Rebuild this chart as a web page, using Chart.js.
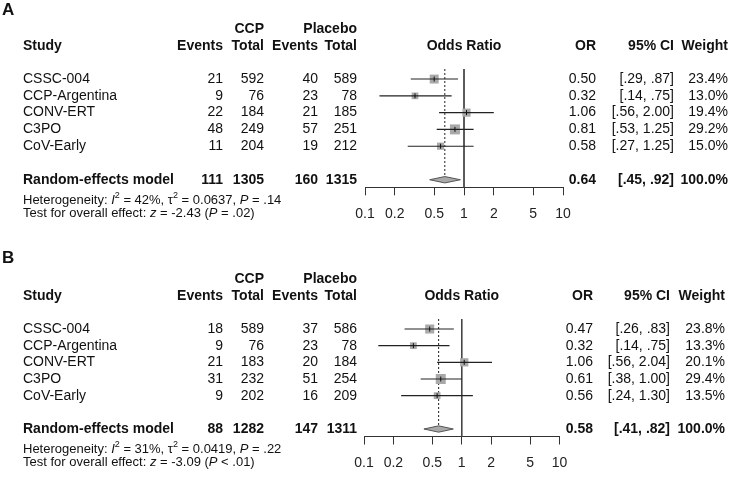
<!DOCTYPE html>
<html><head><meta charset="utf-8">
<script src="https://cdn.jsdelivr.net/npm/chart.js@4.4.1/dist/chart.umd.min.js"></script>
<style>
html,body{margin:0;padding:0;background:#fff;overflow:hidden;width:733px;height:479px}
canvas{position:absolute;left:0}
#ca{top:0}
#cb{top:240px}
</style></head><body>
<canvas id="ca" width="733" height="240"></canvas>
<canvas id="cb" width="733" height="239"></canvas>
<script>
// ---------- data ----------
const studies = ['CSSC-004', 'CCP-Argentina', 'CONV-ERT', 'C3PO', 'CoV-Early'];
const xTicks = [0.1, 0.2, 0.5, 1, 2, 5, 10];
const headerTop = ['CCP', 'Placebo'];
const headerCols = ['Study', 'Events', 'Total', 'Events', 'Total', 'Odds Ratio', 'OR', '95% CI', 'Weight'];
const summaryLabel = 'Random-effects model';

// Panel A
const aCcpEvents = [21, 9, 22, 48, 11];
const aCcpTotal  = [592, 76, 184, 249, 204];
const aPlcEvents = [40, 23, 21, 57, 19];
const aPlcTotal  = [589, 78, 185, 251, 212];
const aOR        = [0.50, 0.32, 1.06, 0.81, 0.58];
const aLo        = [0.29, 0.14, 0.56, 0.53, 0.27];
const aHi        = [0.87, 0.75, 2.00, 1.25, 1.25];
const aWeight    = [23.4, 13.0, 19.4, 29.2, 15.0];
const aSumCounts = [111, 1305, 160, 1315];
const aSumOR     = [0.64, 0.45, 0.92];
const aHet       = ['42%', '0.0637', '.14'];
const aTest      = ['-2.43', '=', '.02'];

// Panel B
const bCcpEvents = [18, 9, 21, 31, 9];
const bCcpTotal  = [589, 76, 183, 232, 202];
const bPlcEvents = [37, 23, 20, 51, 16];
const bPlcTotal  = [586, 78, 184, 254, 209];
const bOR        = [0.47, 0.32, 1.06, 0.61, 0.56];
const bLo        = [0.26, 0.14, 0.56, 0.38, 0.24];
const bHi        = [0.83, 0.75, 2.04, 1.00, 1.30];
const bWeight    = [23.8, 13.3, 20.1, 29.4, 13.5];
const bSumCounts = [88, 1282, 147, 1311];
const bSumOR     = [0.58, 0.41, 0.82];
const bHet       = ['31%', '0.0419', '.22'];
const bTest      = ['-3.09', '<', '.01'];

// ---------- layout (positions only) ----------
const Y_MIN = -0.6, Y_MAX = 6.45, SUM_ROW = 6;
const FONT = '"Liberation Sans", Arial, Helvetica, sans-serif';
const TXT = '#111';

function fmtCI(v) { return v < 1 ? v.toFixed(2).slice(1) : v.toFixed(2); }

function rich(ctx, x, y, segs, size) {
  let cx = x;
  for (const s of segs) {
    let f = size, dy = 0, st = '';
    if (s.s === 'i') st = 'italic ';
    if (s.s === 'sup') { f = Math.round(size * 0.72); dy = -size * 0.42; }
    ctx.font = st + f + 'px ' + FONT;
    ctx.fillText(s.t, cx, y + dy);
    cx += ctx.measureText(s.t).width;
  }
}

function makePanel(canvasId, d, L) {
  const n = studies.length;
  const datasets = [];
  // reference line at OR = 1
  datasets.push({ type: 'line', data: [{x: 1, y: Y_MIN}, {x: 1, y: Y_MAX}], borderColor: '#444', borderWidth: 1, pointRadius: 0, order: 20, clip: false });
  // dotted line at pooled OR
  datasets.push({ type: 'line', data: [{x: d.sum[0], y: Y_MIN}, {x: d.sum[0], y: SUM_ROW}], borderColor: '#222', borderWidth: 1, borderDash: [2, 2], pointRadius: 0, order: 19, clip: false });
  // squares
  datasets.push({ type: 'scatter', data: d.or.map((v, i) => ({x: v, y: i})), pointStyle: 'rect',
    pointRadius: d.w.map(w => 1.85 * Math.sqrt(w) / Math.SQRT2), backgroundColor: '#a9a9a9', borderWidth: 0, order: 10, clip: false });
  // CI lines
  for (let i = 0; i < n; i++) {
    datasets.push({ type: 'line', data: [{x: d.lo[i], y: i}, {x: d.hi[i], y: i}], borderColor: '#222', borderWidth: 1.1, pointRadius: 0, order: 5, clip: false });
  }
  // estimate ticks
  datasets.push({ type: 'scatter', data: d.or.map((v, i) => ({x: v, y: i})), pointStyle: 'line', rotation: 90, pointRadius: 2.5,
    borderColor: '#111', borderWidth: 1, order: 4, clip: false });
  // diamond
  const h = 0.19;
  datasets.push({ type: 'line', data: [
      {x: d.sum[1], y: SUM_ROW}, {x: d.sum[0], y: SUM_ROW - h}, {x: d.sum[2], y: SUM_ROW},
      {x: d.sum[0], y: SUM_ROW + h}, {x: d.sum[1], y: SUM_ROW}],
    borderColor: '#555', borderWidth: 1, backgroundColor: '#a9a9a9', fill: 'shape', pointRadius: 0, tension: 0, order: 1, clip: false });

  const textPlugin = {
    id: 'tbl',
    afterDraw(chart) {
      const ctx = chart.ctx, ys = chart.scales.y, ca = chart.chartArea;
      const py = v => ys.getPixelForValue(v);
      const C = L.cols;
      ctx.save();
      ctx.fillStyle = TXT;
      ctx.textBaseline = 'middle';
      // panel letter
      ctx.font = 'bold 17px ' + FONT; ctx.textAlign = 'left';
      ctx.fillText(d.letter, 2, L.letterY);
      // headers
      ctx.font = 'bold 14px ' + FONT;
      ctx.textAlign = 'right';
      ctx.fillText(headerTop[0], C.total, py(-2.98));
      ctx.fillText(headerTop[1], C.pTotal, py(-2.98));
      const hy = py(-1.96);
      ctx.textAlign = 'left'; ctx.fillText(headerCols[0], C.study, hy);
      ctx.textAlign = 'right';
      ctx.fillText(headerCols[1], C.events, hy);
      ctx.fillText(headerCols[2], C.total, hy);
      ctx.fillText(headerCols[3], C.pEvents, hy);
      ctx.fillText(headerCols[4], C.pTotal, hy);
      ctx.textAlign = 'center'; ctx.fillText(headerCols[5], (ca.left + ca.right) / 2, hy);
      ctx.textAlign = 'right';
      ctx.fillText(headerCols[6], C.or, hy);
      ctx.fillText(headerCols[7], C.ci, hy);
      ctx.fillText(headerCols[8], C.w, hy);
      // study rows
      ctx.font = '14px ' + FONT;
      for (let i = 0; i < n; i++) {
        const y = py(i);
        ctx.textAlign = 'left'; ctx.fillText(studies[i], C.study, y);
        ctx.textAlign = 'right';
        ctx.fillText(String(d.ce[i]), C.events, y);
        ctx.fillText(String(d.ct[i]), C.total, y);
        ctx.fillText(String(d.pe[i]), C.pEvents, y);
        ctx.fillText(String(d.pt[i]), C.pTotal, y);
        ctx.fillText(d.or[i].toFixed(2), C.or, y);
        ctx.fillText('[' + fmtCI(d.lo[i]) + ', ' + fmtCI(d.hi[i]) + ']', C.ci, y);
        ctx.fillText(d.w[i].toFixed(1) + '%', C.w, y);
      }
      // summary row
      const sy = py(SUM_ROW);
      ctx.font = 'bold 14px ' + FONT;
      ctx.textAlign = 'left'; ctx.fillText(summaryLabel, C.study, sy);
      ctx.textAlign = 'right';
      ctx.fillText(String(d.sc[0]), C.events, sy);
      ctx.fillText(String(d.sc[1]), C.total, sy);
      ctx.fillText(String(d.sc[2]), C.pEvents, sy);
      ctx.fillText(String(d.sc[3]), C.pTotal, sy);
      ctx.fillText(d.sum[0].toFixed(2), C.or, sy);
      ctx.fillText('[' + fmtCI(d.sum[1]) + ', ' + fmtCI(d.sum[2]) + ']', C.ci, sy);
      ctx.fillText('100.0%', C.w, sy);
      // heterogeneity and test
      ctx.textAlign = 'left';
      rich(ctx, C.study, py(7.24), [
        {t: 'Heterogeneity: '}, {t: 'I', s: 'i'}, {t: '2', s: 'sup'}, {t: ' = ' + d.het[0] + ', '},
        {t: 'τ'}, {t: '2', s: 'sup'}, {t: ' = ' + d.het[1] + ', '}, {t: 'P', s: 'i'}, {t: ' = ' + d.het[2]}], 13);
      rich(ctx, C.study, py(7.98), [
        {t: 'Test for overall effect: '}, {t: 'z', s: 'i'}, {t: ' = ' + d.test[0] + ' ('},
        {t: 'P', s: 'i'}, {t: ' ' + d.test[1] + ' ' + d.test[2] + ')'}], 13);
      ctx.restore();
    }
  };

  new Chart(document.getElementById(canvasId), {
    type: 'scatter',
    data: { datasets },
    options: {
      responsive: false, animation: false, devicePixelRatio: 1,
      layout: { padding: { left: L.left, right: 733 - L.right, top: L.top, bottom: 0 } },
      plugins: { legend: { display: false }, tooltip: { enabled: false } },
      scales: {
        x: {
          type: 'logarithmic', position: 'bottom', min: 0.1, max: 10,
          afterBuildTicks: s => { s.ticks = xTicks.map(v => ({ value: v })); },
          afterFit: s => { s.height = L.axisH; },
          ticks: { autoSkip: false, maxRotation: 0, padding: 10, color: '#222',
            font: { size: 14, family: FONT }, callback: v => String(v) },
          grid: { display: true, drawOnChartArea: false, drawTicks: true, tickLength: 8, color: '#333', tickColor: '#333', lineWidth: 1 },
          border: { display: true, color: '#333', width: 1 }
        },
        y: { type: 'linear', min: Y_MIN, max: Y_MAX, reverse: true, display: false }
      }
    },
    plugins: [textPlugin]
  });
}

makePanel('ca',
  { letter: 'A', ce: aCcpEvents, ct: aCcpTotal, pe: aPlcEvents, pt: aPlcTotal, or: aOR, lo: aLo, hi: aHi, w: aWeight,
    sc: aSumCounts, sum: aSumOR, het: aHet, test: aTest },
  { left: 365, right: 563, top: 69, axisH: 240 - 187.3, letterY: 10,
    cols: { study: 23, events: 223, total: 264, pEvents: 318, pTotal: 357, or: 596, ci: 674, w: 728 } });

makePanel('cb',
  { letter: 'B', ce: bCcpEvents, ct: bCcpTotal, pe: bPlcEvents, pt: bPlcTotal, or: bOR, lo: bLo, hi: bHi, w: bWeight,
    sc: bSumCounts, sum: bSumOR, het: bHet, test: bTest },
  { left: 364, right: 559.5, top: 79, axisH: 239 - 196.5, letterY: 18,
    cols: { study: 23, events: 223, total: 264, pEvents: 318, pTotal: 357, or: 593, ci: 670, w: 725 } });
</script>
</body></html>
